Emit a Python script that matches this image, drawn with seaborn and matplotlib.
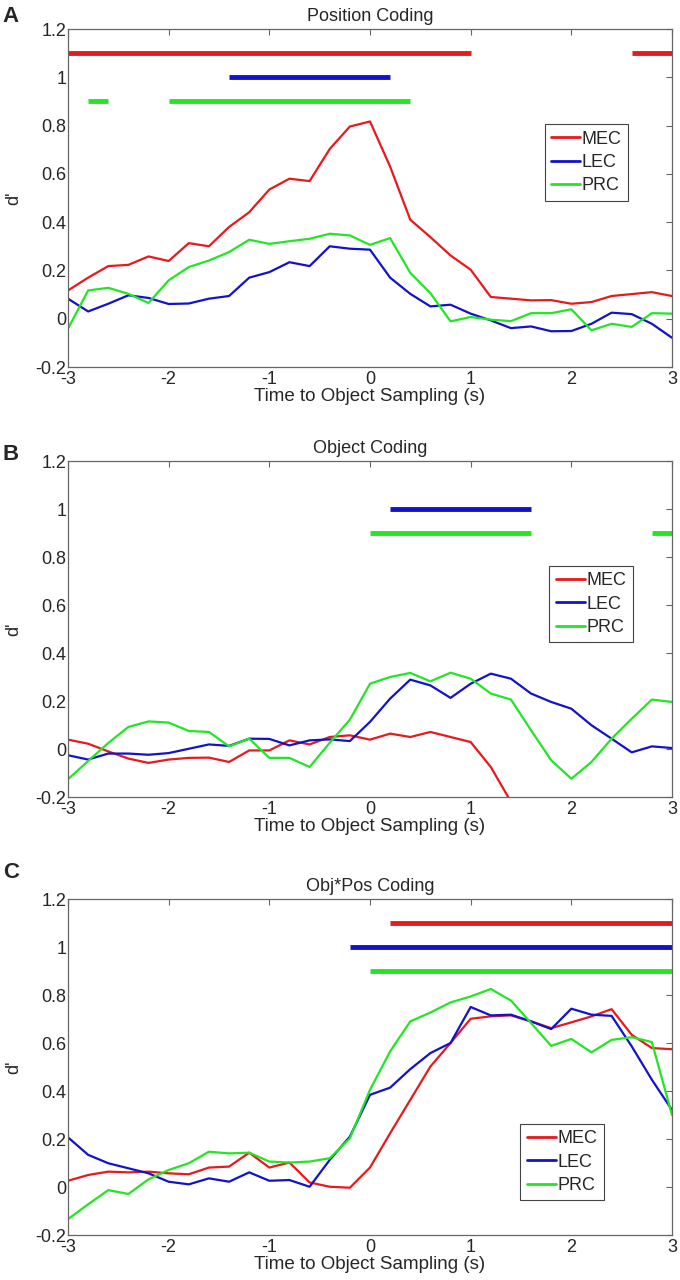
import numpy as np
import pandas as pd
import matplotlib
matplotlib.use('Agg')
import matplotlib.pyplot as plt
from matplotlib.ticker import FuncFormatter
import seaborn as sns

# время относительно объекта, шаг 0.2 с
t = np.round(np.arange(-3, 3.01, 0.2), 1)

# --- A: Position Coding
pos_mec = [0.117, 0.17, 0.218, 0.223, 0.258, 0.239, 0.313, 0.30, 0.38, 0.441, 0.535,
           0.58, 0.57, 0.703, 0.796, 0.817, 0.63, 0.41, 0.338, 0.262, 0.203,
           0.09, 0.083, 0.076, 0.077, 0.062, 0.069, 0.094, 0.102, 0.11, 0.094]
pos_lec = [0.083, 0.03, 0.062, 0.097, 0.086, 0.061, 0.063, 0.083, 0.094, 0.17, 0.193,
           0.234, 0.218, 0.30, 0.29, 0.286, 0.17, 0.103, 0.051, 0.058, 0.021,
           -0.007, -0.039, -0.032, -0.052, -0.051, -0.021, 0.025, 0.019, -0.021, -0.079]
pos_prc = [-0.041, 0.117, 0.128, 0.103, 0.065, 0.159, 0.214, 0.241, 0.276, 0.327, 0.31,
           0.321, 0.331, 0.352, 0.345, 0.306, 0.334, 0.19, 0.106, -0.011, 0.007,
           -0.004, -0.01, 0.023, 0.023, 0.039, -0.048, -0.021, -0.034, 0.023, 0.021]

# --- B: Object Coding
obj_mec = [0.039, 0.022, -0.01, -0.04, -0.058, -0.044, -0.037, -0.036, -0.054, -0.006, -0.006,
           0.036, 0.019, 0.05, 0.057, 0.039, 0.064, 0.05, 0.071, 0.05, 0.029,
           -0.075, -0.22, -0.33, -0.42, -0.48, -0.5, -0.47, -0.43, -0.4, -0.38]
obj_lec = [-0.026, -0.044, -0.019, -0.019, -0.024, -0.017, 0.001, 0.019, 0.013, 0.043, 0.042,
           0.015, 0.036, 0.04, 0.033, 0.113, 0.21, 0.289, 0.265, 0.213, 0.272,
           0.314, 0.293, 0.231, 0.196, 0.168, 0.099, 0.043, -0.014, 0.011, 0.004]
obj_prc = [-0.126, -0.05, 0.025, 0.092, 0.115, 0.11, 0.075, 0.071, 0.011, 0.043, -0.037,
           -0.037, -0.075, 0.026, 0.122, 0.272, 0.30, 0.317, 0.282, 0.318, 0.293,
           0.231, 0.206, 0.078, -0.047, -0.124, -0.054, 0.043, 0.126, 0.206, 0.196]

# --- C: Obj*Pos Coding
op_mec = [0.026, 0.05, 0.064, 0.061, 0.064, 0.057, 0.053, 0.081, 0.085, 0.143, 0.081,
          0.102, 0.019, 0.001, -0.003, 0.081, 0.224, 0.363, 0.502, 0.60, 0.701,
          0.711, 0.715, 0.69, 0.662, 0.686, 0.711, 0.741, 0.634, 0.579, 0.574]
op_lec = [0.207, 0.134, 0.099, 0.078, 0.057, 0.022, 0.011, 0.036, 0.022, 0.061, 0.026,
          0.029, 0.001, 0.113, 0.21, 0.384, 0.414, 0.491, 0.558, 0.60, 0.75,
          0.715, 0.718, 0.69, 0.658, 0.743, 0.718, 0.713, 0.586, 0.447, 0.321]
op_prc = [-0.134, -0.072, -0.013, -0.029, 0.032, 0.071, 0.099, 0.147, 0.14, 0.143, 0.106,
          0.102, 0.106, 0.12, 0.203, 0.405, 0.565, 0.69, 0.727, 0.769, 0.794,
          0.825, 0.777, 0.683, 0.588, 0.617, 0.561, 0.613, 0.624, 0.604, 0.30]

# интервалы значимости (начало, конец) для каждой области
pos_sig = {'MEC': [(-3, 1.0), (2.6, 3.0)], 'LEC': [(-1.4, 0.2)], 'PRC': [(-2.8, -2.6), (-2.0, 0.4)]}
obj_sig = {'MEC': [], 'LEC': [(0.2, 1.6)], 'PRC': [(0.0, 1.6), (2.8, 3.0)]}
op_sig = {'MEC': [(0.2, 3.0)], 'LEC': [(-0.2, 3.0)], 'PRC': [(0.0, 3.0)]}

regions = ['MEC', 'LEC', 'PRC']
sig_level = {'MEC': 1.1, 'LEC': 1.0, 'PRC': 0.9}
colors = {'MEC': '#e8191c', 'LEC': '#1212cc', 'PRC': '#22e622'}

panels = [
    ('A', 'Position Coding', [pos_mec, pos_lec, pos_prc], pos_sig, (0.789, 0.718)),
    ('B', 'Object Coding', [obj_mec, obj_lec, obj_prc], obj_sig, (0.797, 0.6875)),
    ('C', 'Obj*Pos Coding', [op_mec, op_lec, op_prc], op_sig, (0.749, 0.330)),
]

sns.set_style('white')
plt.rcParams['font.family'] = ['Liberation Sans', 'DejaVu Sans']
plt.rcParams['axes.unicode_minus'] = False

fig = plt.figure(figsize=(6.8, 12.8), dpi=100)
# позиции осей в пикселях: верх, низ, и где буква панели
boxes = [(29, 367, 16), (461, 797, 454), (899, 1235, 873)]
H = 1280.0
W = 680.0
left, right = 68, 672

for (letter, title, series, sig, leg_pos), (top, bot, ly) in zip(panels, boxes):
    ax = fig.add_axes([left / W, 1 - bot / H, (right - left) / W, (bot - top) / H])
    df = pd.DataFrame({'t': np.tile(t, 3),
                       'd': np.concatenate(series),
                       'region': np.repeat(regions, len(t))})
    sns.lineplot(data=df, x='t', y='d', hue='region', palette=colors,
                 linewidth=1.6, ax=ax, legend=False)
    for r in regions:
        for a, b in sig[r]:
            ax.hlines(sig_level[r], a, b, colors=colors[r], linewidth=3.5)

    ax.set_xlim(-3, 3)
    ax.set_ylim(-0.2, 1.2)
    ax.set_xticks(np.arange(-3, 4, 1))
    ax.set_yticks(np.round(np.arange(-0.2, 1.21, 0.2), 1))
    ax.yaxis.set_major_formatter(FuncFormatter(lambda v, p: '%g' % round(v, 1)))
    ax.tick_params(direction='in', length=4, width=0.8, color='#666666',
                   top=True, right=True, labelsize=13, pad=1)
    ax.tick_params(axis='x', pad=3)
    for s in ax.spines.values():
        s.set_color('#666666')
        s.set_linewidth(0.9)
        s.set_visible(True)
    ax.set_xlabel('Time to Object Sampling (s)', fontsize=13.5, labelpad=0)
    ax.set_ylabel("d'", fontsize=13, labelpad=10)
    ax.set_title(title, fontsize=13, pad=6)
    fig.text(0.004, 1 - ly / H, letter, fontsize=16, fontweight='bold',
             ha='left', va='center')

    handles = [plt.Line2D([], [], color=colors[r], linewidth=2) for r in regions]
    leg = ax.legend(handles, regions, loc='upper left', bbox_to_anchor=leg_pos,
                    borderaxespad=0, fontsize=13, handlelength=1.6, handletextpad=0.1,
                    labelspacing=0.35, borderpad=0.35, fancybox=False, framealpha=1)
    leg.get_frame().set_edgecolor('#444444')
    leg.get_frame().set_linewidth(0.8)

fig.savefig('out.png', dpi=100)
